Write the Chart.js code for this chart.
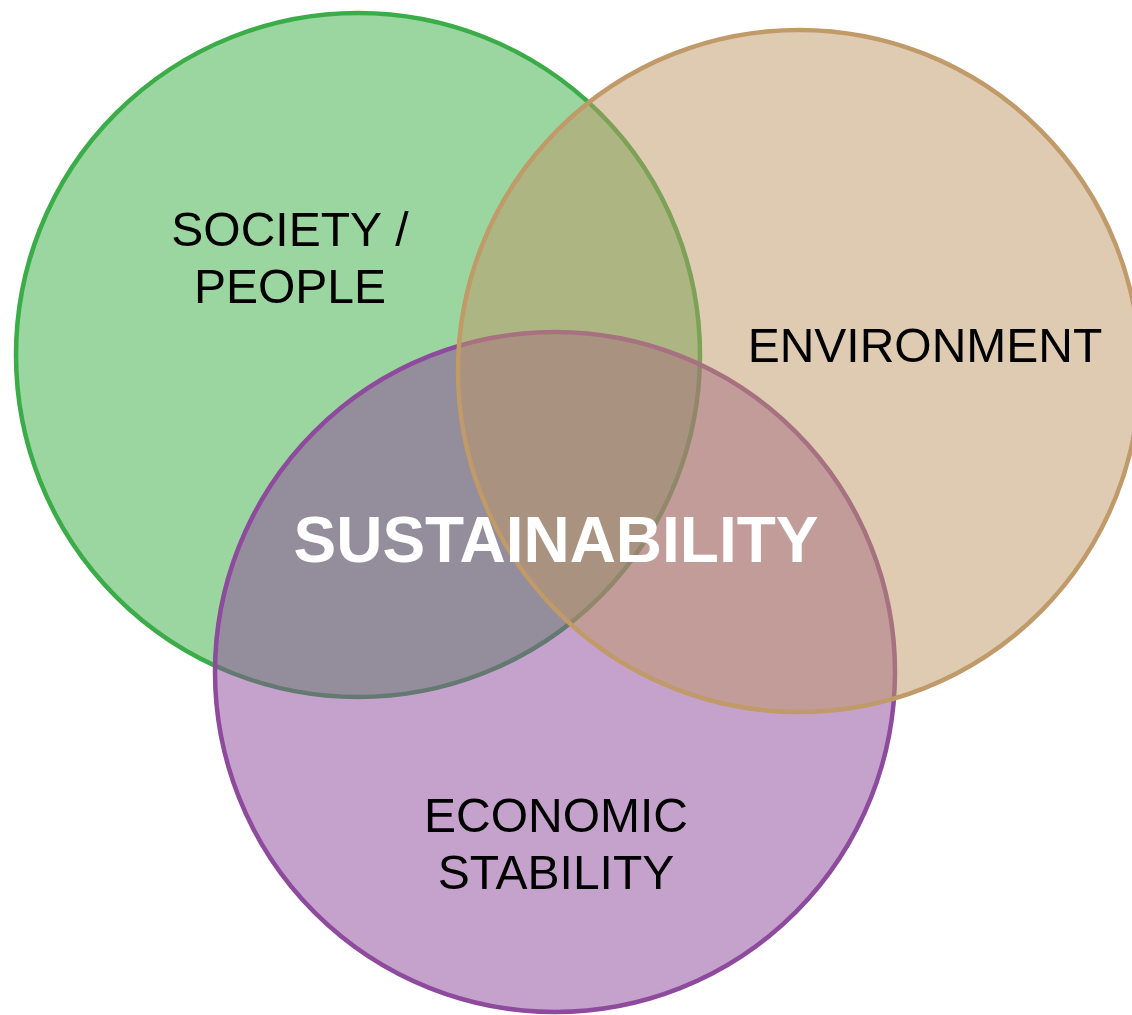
<!DOCTYPE html>
<html>
<head>
<meta charset="utf-8">
<script src="https://cdn.jsdelivr.net/npm/chart.js@4/dist/chart.umd.min.js"></script>
<style>
  html, body { margin: 0; padding: 0; background: #ffffff; }
  #wrap { width: 1132px; height: 1015px; }
</style>
</head>
<body>
<div id="wrap"><canvas id="venn" width="1132" height="1015"></canvas></div>
<script>
// circles (data units = layout units of the figure)
const sets = ["SOCIETY / PEOPLE", "ENVIRONMENT", "ECONOMIC STABILITY"];
const centerX = [358, 799, 555];
const centerY = [355, 371, 672];
const radius = [342, 341, 340];

// labels
const labelLines = [["SOCIETY /", "PEOPLE"], ["ENVIRONMENT"], ["ECONOMIC", "STABILITY"], ["SUSTAINABILITY"]];
const labelX = [290, 925, 556, 556];
const labelY = [259, 347, 845, 542];

const fills = ["rgba(55,171,65,0.5)", "rgba(191,151,101,0.5)", "rgba(139,69,153,0.5)"];
const borders = ["rgb(58,173,72)", "rgb(192,154,104)", "rgb(142,74,156)"];
const drawOrder = [2, 0, 1]; // green at the bottom, then purple, tan on top

// radius in pixels, taken from the x scale
function pixelRadius(ctx) {
  const xs = ctx.chart.scales.x;
  const i = ctx.datasetIndex;
  return xs.getPixelForValue(centerX[i] + radius[i]) - xs.getPixelForValue(centerX[i]);
}

const labelPlugin = {
  id: "vennLabels",
  afterDatasetsDraw(chart) {
    const { ctx, scales } = chart;
    ctx.save();
    ctx.textAlign = "center";
    ctx.textBaseline = "middle";
    labelLines.forEach((lines, i) => {
      const bold = i === 3;
      ctx.font = bold ? "bold 64px 'Liberation Sans', Arial, sans-serif" : "48px 'Liberation Sans', Arial, sans-serif";
      ctx.fillStyle = bold ? "#ffffff" : "#000000";
      const lh = 57;
      const x = scales.x.getPixelForValue(labelX[i]);
      const y0 = scales.y.getPixelForValue(labelY[i]) - (lines.length - 1) * lh / 2;
      lines.forEach((t, j) => ctx.fillText(t, x, y0 + j * lh + 2));
    });
    ctx.restore();
  }
};

new Chart(document.getElementById("venn").getContext("2d"), {
  type: "scatter",
  data: {
    datasets: sets.map((name, i) => ({
      label: name,
      data: [{ x: centerX[i], y: centerY[i] }],
      pointBackgroundColor: fills[i],
      pointBorderColor: borders[i],
      pointBorderWidth: 4.5,
      pointRadius: pixelRadius,
      pointHoverRadius: pixelRadius,
      order: drawOrder[i],
    })),
  },
  options: {
    responsive: false,
    animation: false,
    events: [],
    layout: { padding: 0 },
    plugins: { legend: { display: false }, tooltip: { enabled: false } },
    scales: {
      x: { type: "linear", min: 0, max: 1132, display: false },
      y: { type: "linear", min: 0, max: 1015, reverse: true, display: false },
    },
  },
  plugins: [labelPlugin],
});
</script>
</body>
</html>
